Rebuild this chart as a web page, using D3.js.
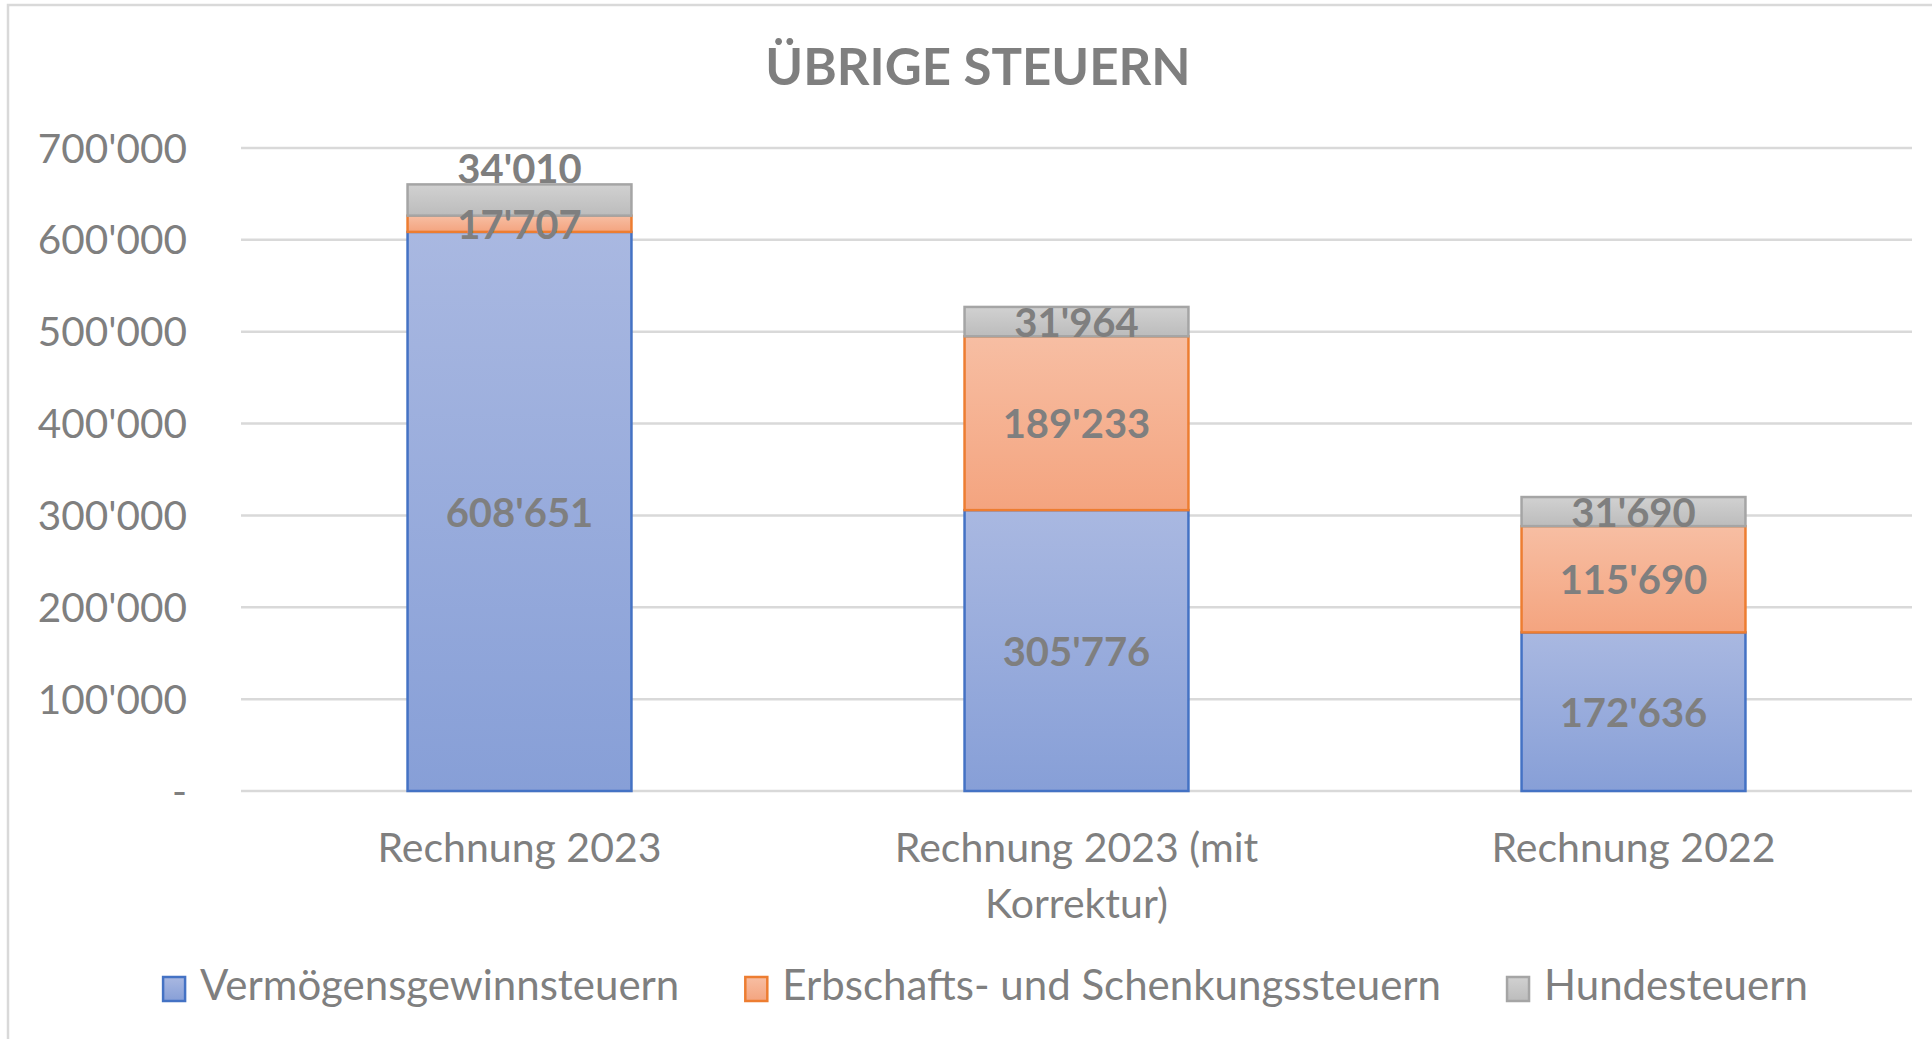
<!DOCTYPE html>
<html>
<head>
<meta charset="utf-8">
<script src="https://cdn.jsdelivr.net/npm/d3@7"></script>
<style>
  body { margin: 0; background: #fff; }
  text { font-family: Lato, "Open Sans", sans-serif; }
</style>
</head>
<body>
<div id="chart"></div>
<script>
// data
const categories = ["Rechnung 2023", "Rechnung 2023 (mit Korrektur)", "Rechnung 2022"];
const categoryLines = [["Rechnung 2023"], ["Rechnung 2023 (mit", "Korrektur)"], ["Rechnung 2022"]];
const seriesNames = ["Vermögensgewinnsteuern", "Erbschafts- und Schenkungssteuern", "Hundesteuern"];
const vermoegen = [608651, 305776, 172636];
const erbschaft = [17707, 189233, 115690];
const hunde = [34010, 31964, 31690];
const yTicks = [0, 100000, 200000, 300000, 400000, 500000, 600000, 700000];

const palette = [
  { stroke: "#4472c4", top: "#a9b8e1", bottom: "#879fd7" },
  { stroke: "#ed7d31", top: "#f7bea3", bottom: "#f4a47f" },
  { stroke: "#a5a5a5", top: "#d1d1d1", bottom: "#bcbcbc" },
];

const width = 1932, height = 1039;
const plot = { left: 241, right: 1912, top: 148, bottom: 791 };
const textColor = "#7f7f7f";

const fmt = (v) => (v === 0 ? "-" : d3.format(",")(v).replace(/,/g, "'"));

const svg = d3.select("#chart").append("svg")
  .attr("width", width).attr("height", height)
  .style("display", "block");

svg.append("rect").attr("width", width).attr("height", height).attr("fill", "#fff");

// chart area border (cut off at the right and bottom)
svg.append("rect")
  .attr("x", 8).attr("y", 5)
  .attr("width", width + 50).attr("height", height + 50)
  .attr("fill", "none").attr("stroke", "#d9d9d9").attr("stroke-width", 2.5);

const defs = svg.append("defs");
palette.forEach((p, i) => {
  const grad = defs.append("linearGradient")
    .attr("id", `grad-${i}`)
    .attr("x1", 0).attr("y1", 0).attr("x2", 0).attr("y2", 1);
  grad.append("stop").attr("offset", "0%").attr("stop-color", p.top);
  grad.append("stop").attr("offset", "100%").attr("stop-color", p.bottom);
});

const x = d3.scaleBand()
  .domain(categories)
  .range([plot.left, plot.right])
  .paddingInner(0.598)
  .paddingOuter(0.299);

const y = d3.scaleLinear().domain([0, 700000]).range([plot.bottom, plot.top]);

// gridlines
svg.append("g").selectAll("line")
  .data(yTicks)
  .join("line")
  .attr("x1", plot.left).attr("x2", plot.right)
  .attr("y1", (d) => y(d)).attr("y2", (d) => y(d))
  .attr("stroke", "#d9d9d9").attr("stroke-width", 2.5);

// y tick labels
svg.append("g").selectAll("text")
  .data(yTicks)
  .join("text")
  .attr("x", 187).attr("y", (d) => y(d))
  .attr("dy", "0.36em")
  .attr("text-anchor", "end")
  .attr("fill", textColor)
  .style("font-size", "40.5px")
  .text(fmt);

// stacked series
const table = categories.map((c, i) => ({
  cat: c,
  s0: vermoegen[i],
  s1: erbschaft[i],
  s2: hunde[i],
}));
const stack = d3.stack().keys(["s0", "s1", "s2"])(table);

const bars = svg.append("g");
stack.forEach((layer, si) => {
  bars.append("g").selectAll("rect")
    .data(layer)
    .join("rect")
    .attr("x", (d) => x(d.data.cat))
    .attr("width", x.bandwidth())
    .attr("y", (d) => y(d[1]))
    .attr("height", (d) => y(d[0]) - y(d[1]))
    .attr("fill", `url(#grad-${si})`)
    .attr("stroke", palette[si].stroke)
    .attr("stroke-width", 2.5);
});

// data labels, pushed up when they would collide
const minGap = 56;
const labels = svg.append("g");
table.forEach((row, ci) => {
  let prevY = Infinity;
  stack.forEach((layer) => {
    const d = layer[ci];
    let cy = (y(d[0]) + y(d[1])) / 2;
    if (prevY - cy < minGap) cy = prevY - minGap;
    prevY = cy;
    labels.append("text")
      .attr("x", x(row.cat) + x.bandwidth() / 2)
      .attr("y", cy)
      .attr("dy", "0.38em")
      .attr("text-anchor", "middle")
      .attr("fill", textColor)
      .style("font-size", "40px")
      .style("font-weight", "bold")
      .text(fmt(d[1] - d[0]));
  });
});

// category labels
const xl = svg.append("g");
categories.forEach((c, i) => {
  const t = xl.append("text")
    .attr("x", x(c) + x.bandwidth() / 2)
    .attr("y", 862)
    .attr("text-anchor", "middle")
    .attr("fill", textColor)
    .style("font-size", "41px");
  categoryLines[i].forEach((line, li) => {
    t.append("tspan")
      .attr("x", x(c) + x.bandwidth() / 2)
      .attr("dy", li === 0 ? 0 : 56)
      .text(line);
  });
});

// title
svg.append("text")
  .attr("x", 978).attr("y", 85)
  .attr("text-anchor", "middle")
  .attr("fill", textColor)
  .style("font-size", "51px")
  .style("font-weight", "bold")
  .text("ÜBRIGE STEUERN");

// legend
const leg = svg.append("g");
const box = 24, boxGap = 14, itemGap = 65;
let lx = 0;
seriesNames.forEach((name, i) => {
  const item = leg.append("g").attr("transform", `translate(${lx},0)`);
  item.append("rect")
    .attr("x", 1).attr("y", 977)
    .attr("width", box - 2).attr("height", box)
    .attr("fill", `url(#grad-${i})`)
    .attr("stroke", palette[i].stroke).attr("stroke-width", 2.5);
  const t = item.append("text")
    .attr("x", box + boxGap).attr("y", 1000)
    .attr("fill", textColor)
    .style("font-size", "42px")
    .text(name);
  lx += box + boxGap + t.node().getComputedTextLength() + itemGap;
});
const legW = lx - itemGap;
leg.attr("transform", `translate(${985 - legW / 2},0)`);
</script>
</body>
</html>
